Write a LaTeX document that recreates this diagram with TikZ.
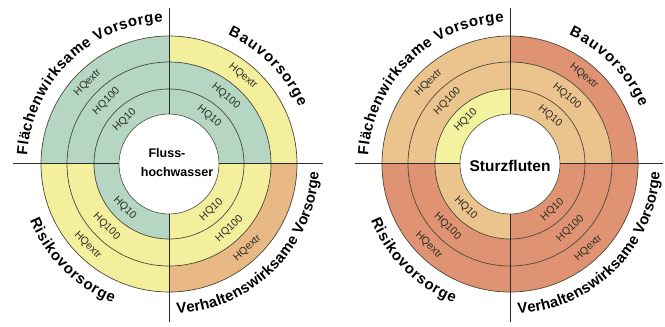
\documentclass[tikz,border=0pt]{standalone}
\usepackage{fontspec}
\setmainfont{Liberation Sans}
\usetikzlibrary{decorations.text}
\definecolor{cSage}{HTML}{B4D6C3}
\definecolor{cYel}{HTML}{F4EF9C}
\definecolor{cOrn}{HTML}{E8B985}
\definecolor{cTan}{HTML}{EBC38D}
\definecolor{cSalm}{HTML}{DF9373}
\definecolor{cLYel}{HTML}{F3F29E}
\definecolor{cRing}{HTML}{4A4A3A}
\definecolor{cCross}{HTML}{2B2B2B}
\definecolor{cLab}{HTML}{2E2E28}
\newcommand{\outerfont}{\bfseries\fontsize{15}{15}\selectfont}
\newcommand{\quadfill}[5]{%
  \fill[#3] (#1) -- ++(#2:128pt) arc[start angle=#2, delta angle=90, radius=128pt] -- cycle;
  \fill[#4] (#1) -- ++(#2:102pt) arc[start angle=#2, delta angle=90, radius=102pt] -- cycle;
  \fill[#5] (#1) -- ++(#2:75pt) arc[start angle=#2, delta angle=90, radius=75pt] -- cycle;
}
\newcommand{\hqlabels}[4]{%
  \node[hq, rotate=#3] (#4a) at ([shift={(#2:62.5pt)}]#1) {HQ10};
  \node[hq, rotate=#3] (#4b) at ([shift={(#2:88.5pt)}]#1) {HQ100};
  \node[hq, rotate=#3] (#4c) at ([shift={(#2:115pt)}]#1) {HQextr};
}
\newcommand{\rings}[1]{%
  \draw[ringline] (#1) circle[radius=128pt];
  \draw[ringline] (#1) circle[radius=102pt];
  \draw[ringline] (#1) circle[radius=75pt];
}
\newcommand{\outerlabels}[1]{%
  \path[decorate, decoration={text along path, text={|\outerfont|Flächenwirksame Vorsorge}, text align={fit to path}}]
    ([shift={(176.5:142pt)}]#1) arc[start angle=176.5, end angle=92.5, radius=142pt];
  \path[decorate, decoration={text along path, text={|\outerfont|Bauvorsorge}, text align={fit to path}}]
    ([shift={(65.5:142pt)}]#1) arc[start angle=65.5, end angle=23.5, radius=142pt];
  \path[decorate, decoration={text along path, text={|\outerfont|Risikovorsorge}, text align={fit to path}}]
    ([shift={(202:150pt)}]#1) arc[start angle=202, end angle=248, radius=150pt];
  \path[decorate, decoration={text along path, text={|\outerfont|Verhaltenswirksame Vorsorge}, text align={fit to path}}]
    ([shift={(-87:150pt)}]#1) arc[start angle=-87, end angle=-3, radius=150pt];
}
\tikzset{
  hq/.style={font=\fontsize{10.5}{10.5}\selectfont, text=cLab, inner sep=0pt},
  ringline/.style={draw=cRing, line width=0.7pt},
  crossline/.style={draw=cCross, line width=1pt},
  centredisc/.style={draw=cRing, fill=white, line width=0.6pt},
}
\begin{document}
\begin{tikzpicture}[x=1pt, y=1pt]
\useasboundingbox (0,0) rectangle (665,327);
\fill[white] (0,0) rectangle (665,327);
% centres
\coordinate (L) at (169,163);
\coordinate (R) at (510,163);
% line ends
\coordinate (Lw) at (13,163);
\coordinate (Le) at (323,163);
\coordinate (Ln) at (169,319);
\coordinate (Ls) at (169,5);
\coordinate (Rw) at (355,163);
\coordinate (Re) at (663,163);
\coordinate (Rn) at (510,319);
\coordinate (Rs) at (510,5);
% left diagram fills
\quadfill{L}{90}{cSage}{cSage}{cSage}
\quadfill{L}{0}{cYel}{cSage}{cSage}
\quadfill{L}{180}{cYel}{cYel}{cSage}
\quadfill{L}{270}{cOrn}{cYel}{cYel}
% right diagram fills
\quadfill{R}{90}{cTan}{cTan}{cLYel}
\quadfill{R}{0}{cSalm}{cTan}{cTan}
\quadfill{R}{180}{cSalm}{cSalm}{cTan}
\quadfill{R}{270}{cSalm}{cSalm}{cSalm}
\rings{L}
\rings{R}
\draw[crossline] (Lw) -- (Le);
\draw[crossline] (Ln) -- (Ls);
\draw[crossline] (Rw) -- (Re);
\draw[crossline] (Rn) -- (Rs);
\draw[centredisc] (L) circle[radius=50pt];
\draw[centredisc] (R) circle[radius=50pt];
% centre texts
\node[font=\bfseries\fontsize{12.5}{12.5}\selectfont, inner sep=0pt] (Lc1) at (167,174) {Fluss-};
\node[font=\bfseries\fontsize{12.5}{12.5}\selectfont, inner sep=0pt] (Lc2) at (177,155) {hochwasser};
\node[font=\bfseries\fontsize{15.5}{15.5}\selectfont, inner sep=0pt] (Rc) at (510,161) {Sturzfluten};
% HQ labels
\hqlabels{L}{135}{45}{Ltl}
\hqlabels{L}{50}{-40}{Ltr}
\hqlabels{L}{225}{-45}{Lbl}
\hqlabels{L}{-47}{43}{Lbr}
\hqlabels{R}{135}{45}{Rtl}
\hqlabels{R}{50}{-40}{Rtr}
\hqlabels{R}{225}{-45}{Rbl}
\hqlabels{R}{-47}{43}{Rbr}
% outer texts
\outerlabels{L}
\outerlabels{R}
\end{tikzpicture}
\end{document}
